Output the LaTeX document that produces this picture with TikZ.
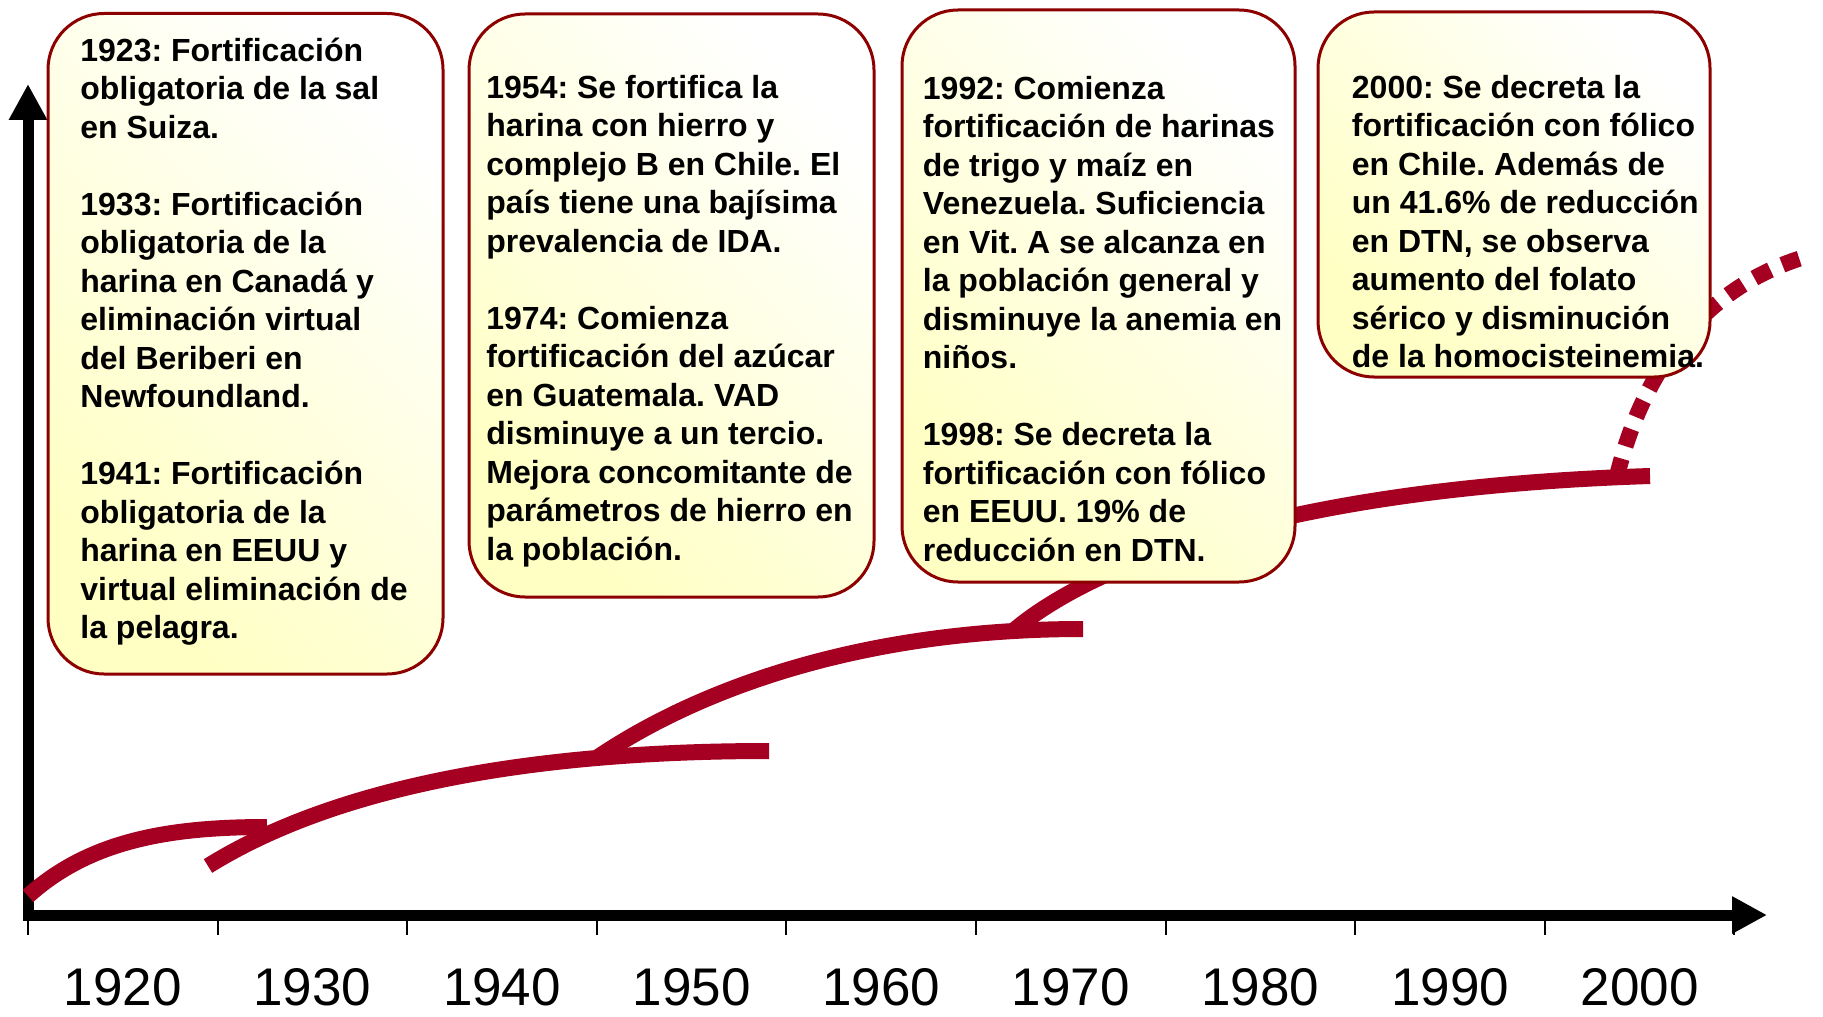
\documentclass[tikz,border=0pt]{standalone}
\usepackage{fontspec}
\setmainfont{Liberation Sans}
\usetikzlibrary{arrows.meta}
\definecolor{curvecol}{RGB}{165,0,33}
\definecolor{boxborder}{RGB}{140,0,0}
\definecolor{boxfill}{RGB}{255,255,195}
\frenchspacing
\begin{document}
\begin{tikzpicture}[x=0.5pt,y=-0.5pt,
  boxshape/.style={draw=boxborder, line width=1.5pt, rounded corners=28pt,
    top color=white, bottom color=boxfill, shading angle=-45,
    inner sep=0pt, outer sep=0pt},
  boxtext/.style={anchor=north west, inner sep=0pt, align=left,
    font=\fontsize{16}{19.25}\selectfont\bfseries\frenchspacing},
  trend/.style={draw=curvecol, line width=8pt},
  trenddots/.style={draw=curvecol, line width=8pt, dash pattern=on 9pt off 6.5pt},
  axisline/.style={line width=5.5pt, line join=miter},
  tickline/.style={line width=1pt},
  yearlabel/.style={anchor=base, inner sep=0pt, font=\fontsize{26.5}{30}\selectfont}]

\fill[white] (0,0) rectangle (1823,1016);
\useasboundingbox (0,0) rectangle (1823,1016);

% axes
\coordinate (origin) at (28,915);
\coordinate (ytip) at (28,84);
\coordinate (xtip) at (1767,915);
\draw[axisline, {Triangle[length=18pt,width=18pt]}-{Triangle[length=17.5pt,width=17.5pt]}]
  (ytip) -- (origin) -- (xtip);
\foreach \i in {0,...,9}
  \draw[tickline] ({28+189.6*\i},915) -- ({28+189.6*\i},935);
\foreach \yr [count=\i from 0] in {1920,1930,...,2000}
  \node[yearlabel] (lab\yr) at ({122.8+189.6*\i},1005) {\yr};

% trend curves
\coordinate (c1s) at (28,896);   \coordinate (c1e) at (267,827);
\coordinate (c2s) at (208,866);  \coordinate (c2e) at (769,751);
\coordinate (c3s) at (598,757);  \coordinate (c3e) at (1083,629);
\coordinate (c4s) at (1012,632); \coordinate (c4e) at (1650,476);
\coordinate (c5s) at (1617,476); \coordinate (c5e) at (1808,256);
\draw[trend] (c1s) .. controls (90,840) and (170,827) .. (c1e);
\draw[trend] (c2s) .. controls (330,790) and (520,751) .. (c2e);
\draw[trend] (c3s) .. controls (690,695) and (850,629) .. (c3e);
\draw[trend] (c4s) .. controls (1060,590) and (1220,490) .. (c4e);
\draw[trenddots] (c5s) .. controls (1638,390) and (1690,290) .. (c5e);

% boxes
\node[boxshape, minimum width=197.5pt, minimum height=330.25pt] (b1) at (245.5,343.75) {};
\node[boxshape, minimum width=202.5pt, minimum height=291.5pt] (b2) at (671.5,305.5) {};
\node[boxshape, minimum width=196.5pt, minimum height=286pt] (b3) at (1098.5,296) {};
\node[boxshape, minimum width=196pt, minimum height=182.5pt] (b4) at (1514,194.5) {};

% texts
\node[boxtext] (t1) at (80,33) {\rule{0pt}{14pt}1923: Fortificación\\
obligatoria de la sal\\
en Suiza.\\[19.25pt]
1933: Fortificación\\
obligatoria de la\\
harina en Canadá y\\
eliminación virtual\\
del Beriberi en\\
Newfoundland.\\[19.25pt]
1941: Fortificación\\
obligatoria de la\\
harina en EEUU y\\
virtual eliminación de\\
la pelagra.};

\node[boxtext] (t2) at (486,70) {\rule{0pt}{14pt}1954: Se fortifica la\\
harina con hierro y\\
complejo B en Chile. El\\
país tiene una bajísima\\
prevalencia de IDA.\\[19.25pt]
1974: Comienza\\
fortificación del azúcar\\
en Guatemala. VAD\\
disminuye a un tercio.\\
Mejora concomitante de\\
parámetros de hierro en\\
la población.};

\node[boxtext] (t3) at (922.5,71) {\rule{0pt}{14pt}1992: Comienza\\
fortificación de harinas\\
de trigo y maíz en\\
Venezuela. Suficiencia\\
en Vit. A se alcanza en\\
la población general y\\
disminuye la anemia en\\
niños.\\[19.25pt]
1998: Se decreta la\\
fortificación con fólico\\
en EEUU. 19\% de\\
reducción en DTN.};

\node[boxtext] (t4) at (1351.5,70) {\rule{0pt}{14pt}2000: Se decreta la\\
fortificación con fólico\\
en Chile. Además de\\
un 41.6\% de reducción\\
en DTN, se observa\\
aumento del folato\\
sérico y disminución\\
de la homocisteinemia.};

\end{tikzpicture}
\end{document}
